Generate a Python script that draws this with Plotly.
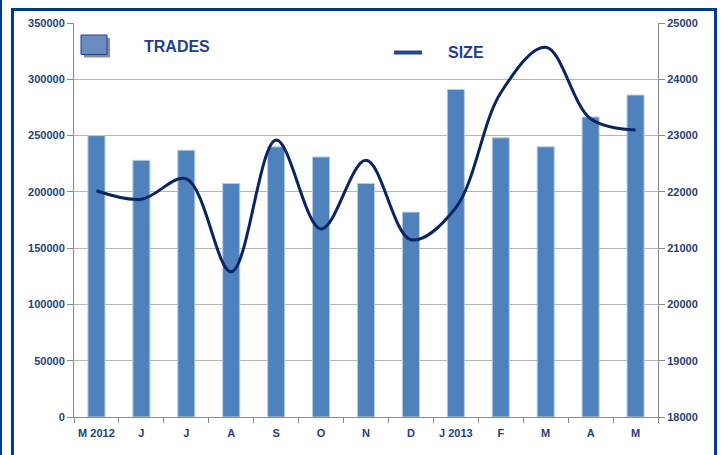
import plotly.graph_objects as go

months = ["M 2012", "J ", "J  ", "A", "S", "O", "N", "D", "J 2013", "F", "M", "A ", "M "]
trades = [250000, 228000, 237000, 207500, 240000, 231000, 207500, 182000, 291000, 248000, 240000, 266500, 286000]
size = [22020, 21870, 22230, 20580, 22920, 21340, 22560, 21150, 21720, 23760, 24570, 23300, 23100]
left_ticks = [0, 50000, 100000, 150000, 200000, 250000, 300000, 350000]
right_ticks = [18000, 19000, 20000, 21000, 22000, 23000, 24000, 25000]

TXT = "#243F78"
FONT = "Liberation Sans"
TS = 11

fig = go.Figure()
fig.add_trace(go.Bar(x=months, y=trades, name="TRADES",
                     marker=dict(color="#4F81BD", line=dict(color="#B9CDE5", width=1)),
                     showlegend=False, hoverinfo="skip"))
fig.add_trace(go.Scatter(x=months, y=size, name="SIZE", yaxis="y2", mode="lines",
                         line=dict(color="#0A2463", width=3, shape="spline", smoothing=1.0),
                         showlegend=False, hoverinfo="skip"))

W, H = 722, 455
L, R, T, B = 74, 64, 23, 38
pw, ph = W - L - R, H - T - B

def px(x):
    return (x - L) / pw

def py(y):
    return (H - B - y) / ph

shapes = [
    # outer frame
    dict(type="rect", xref="paper", yref="paper", x0=px(12.5), x1=px(715.5), y0=py(480), y1=py(9.5),
         line=dict(color="#003A8C", width=3), layer="above"),
    dict(type="line", xref="paper", yref="paper", x0=px(1), x1=px(1), y0=py(480), y1=py(0),
         line=dict(color="#003A8C", width=2), layer="above"),
    # legend TRADES box shadow + box
    dict(type="rect", xref="paper", yref="paper", x0=px(84), x1=px(110), y0=py(57.5), y1=py(38),
         fillcolor="#8C8C8C", line=dict(width=0), layer="above"),
    dict(type="rect", xref="paper", yref="paper", x0=px(81), x1=px(107), y0=py(54.5), y1=py(35),
         fillcolor="#6A8CC0", line=dict(color="#1F3F8F", width=1), layer="above"),
    # legend SIZE line
    dict(type="line", xref="paper", yref="paper", x0=px(394), x1=px(422), y0=py(52.5), y1=py(52.5),
         line=dict(color="#1F4A8A", width=4), layer="above"),
]

annotations = [
    dict(text="<b>TRADES</b>", xref="paper", yref="paper", x=px(142), y=py(46), xanchor="left",
         yanchor="middle", showarrow=False, font=dict(family=FONT, size=16, color="#1F3F8F")),
    dict(text="<b>SIZE</b>", xref="paper", yref="paper", x=px(446), y=py(52), xanchor="left",
         yanchor="middle", showarrow=False, font=dict(family=FONT, size=16, color="#1F3F8F")),
]

fig.update_layout(
    width=W, height=H,
    margin=dict(l=L, r=R, t=T, b=B, pad=0, autoexpand=False),
    paper_bgcolor="white", plot_bgcolor="white",
    bargap=0.62,
    hovermode=False,
    shapes=shapes, annotations=annotations,
    font=dict(family=FONT, size=TS, color=TXT),
    xaxis=dict(type="category", showline=True, linecolor="#8C8C8C", linewidth=1,
               ticks="outside", ticklen=5, tickcolor="#8C8C8C", tickson="boundaries",
               showgrid=False, tickfont=dict(family=FONT, size=TS, color=TXT),
               ticklabelstandoff=6, tickangle=0, automargin=False),
    yaxis=dict(range=[0, 350000], tickvals=left_ticks, ticktext=[f"<b>{v}</b>" for v in left_ticks],
               showline=True, linecolor="#8C8C8C", linewidth=1,
               ticks="outside", ticklen=6, tickcolor="#8C8C8C",
               showgrid=True, gridcolor="#B4B4B4", gridwidth=1, zeroline=False,
               tickfont=dict(family=FONT, size=TS, color=TXT), automargin=False),
    yaxis2=dict(range=[18000, 25000], tickvals=right_ticks, ticktext=[f"<b>{v}</b>" for v in right_ticks],
                overlaying="y", side="right", showline=True, linecolor="#8C8C8C", linewidth=1,
                ticks="outside", ticklen=6, tickcolor="#8C8C8C", showgrid=False, zeroline=False,
                tickfont=dict(family=FONT, size=TS, color=TXT), automargin=False),
)
fig.update_xaxes(ticktext=[f"<b>{m.strip()}</b>" for m in months], tickvals=months)

fig.write_html("out.html", config={"displayModeBar": False, "staticPlot": True},
               post_script="document.body.style.margin='0px';document.body.style.overflow='hidden';")
